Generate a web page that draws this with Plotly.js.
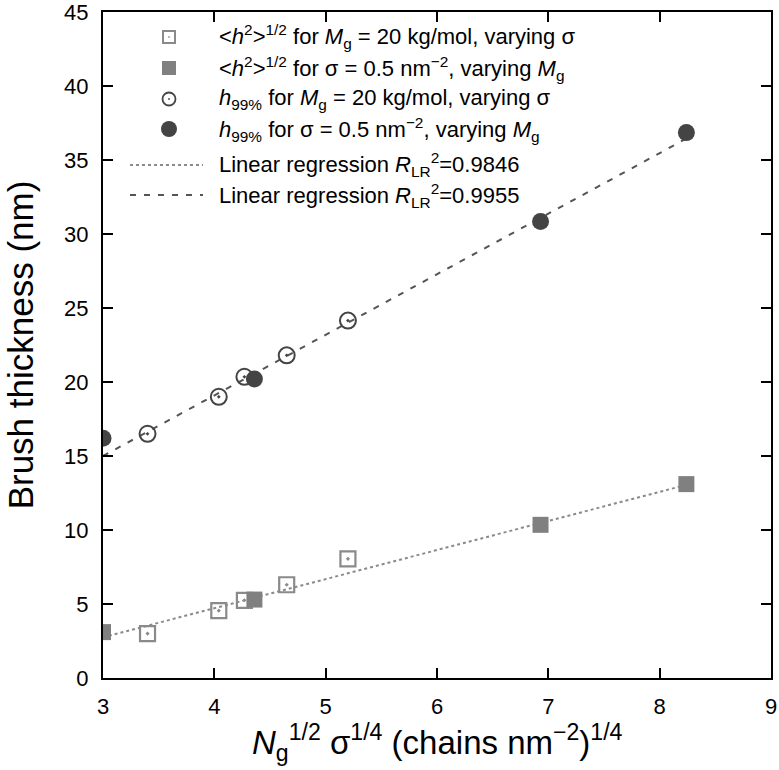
<!DOCTYPE html>
<html>
<head>
<meta charset="utf-8">
<script src="https://cdn.plot.ly/plotly-3.0.1.min.js"></script>
<style>html,body{margin:0;padding:0;background:#fff;}#chart{width:779px;height:770px;}</style>
</head>
<body>
<div id="chart"></div>
<script>
// <h^2>^1/2 for Mg = 20 kg/mol, varying sigma (open squares)
const rmsSigmaX = [3.40, 4.04, 4.27, 4.65, 5.20];
const rmsSigmaY = [3.0, 4.55, 5.25, 6.3, 8.05];
// <h^2>^1/2 for sigma = 0.5, varying Mg (filled squares)
const rmsMgX = [3.00, 4.36, 6.93, 8.24];
const rmsMgY = [3.1, 5.3, 10.35, 13.1];
// h99% for Mg = 20 kg/mol, varying sigma (open circles)
const h99SigmaX = [3.40, 4.04, 4.27, 4.65, 5.20];
const h99SigmaY = [16.5, 19.0, 20.35, 21.8, 24.15];
// h99% for sigma = 0.5, varying Mg (filled circles)
const h99MgX = [3.00, 4.36, 6.93, 8.24];
const h99MgY = [16.2, 20.2, 30.85, 36.85];
// regression lines (endpoints)
const regX = [3.0, 8.24];
const regLowY = [2.75, 13.05];
const regUpY = [15.0, 36.45];

const xTicks = [3, 4, 5, 6, 7, 8, 9];
const yTicks = [0, 5, 10, 15, 20, 25, 30, 35, 40, 45];

const names = [
  '&lt;<i>h</i><sup>2</sup>&gt;<sup>1/2</sup> for <i>M</i><sub>g</sub> = 20 kg/mol, varying σ',
  '&lt;<i>h</i><sup>2</sup>&gt;<sup>1/2</sup> for σ = 0.5 nm<sup>−2</sup>, varying <i>M</i><sub>g</sub>',
  '<i>h</i><sub>99%</sub> for <i>M</i><sub>g</sub> = 20 kg/mol, varying σ',
  '<i>h</i><sub>99%</sub> for σ = 0.5 nm<sup>−2</sup>, varying <i>M</i><sub>g</sub>',
  'Linear regression <i>R</i><sub>LR</sub><sup>2</sup>=0.9846',
  'Linear regression <i>R</i><sub>LR</sub><sup>2</sup>=0.9955'
];
const xTitle = '<i>N</i><sub>g</sub><sup>1/2</sup> σ<sup>1/4</sup> (chains nm<sup>−2</sup>)<sup>1/4</sup>';
const yTitle = 'Brush thickness (nm)';

const cOpenSq = '#8a8a8a', cSq = '#808080', cCirc = '#444444', cDot = '#8a8a8a', cDash = '#555555';

const traces = [
  {x: regX, y: regLowY, mode: 'lines', name: names[4], showlegend: false,
   line: {color: cDot, width: 2, dash: 'dot'}},
  {x: regX, y: regUpY, mode: 'lines', name: names[5], showlegend: false,
   line: {color: cDash, width: 2, dash: '6px,8px'}},
  {x: rmsSigmaX, y: rmsSigmaY, mode: 'markers', name: names[0], showlegend: false,
   marker: {symbol: 'square-open-dot', size: 15, color: cOpenSq, line: {width: 2.2, color: cOpenSq}}},
  {x: rmsMgX, y: rmsMgY, mode: 'markers', name: names[1], showlegend: false,
   marker: {symbol: 'square', size: 16, color: cSq}},
  {x: h99SigmaX, y: h99SigmaY, mode: 'markers', name: names[2], showlegend: false,
   marker: {symbol: 'circle-open-dot', size: 16, color: cCirc, line: {width: 2, color: cCirc}}},
  {x: h99MgX, y: h99MgY, mode: 'markers', name: names[3], showlegend: false,
   marker: {symbol: 'circle', size: 17, color: cCirc}}
];

// Manual legend (paper coordinates of the plot area)
const legRowsY = [0.9625, 0.9159, 0.8694, 0.8243, 0.7703, 0.7252];
const legSymX = 0.0988, legTextX = 0.170, legLineX0 = 0.0404, legLineX1 = 0.1497;

const annotations = names.map((t, i) => ({
  xref: 'paper', yref: 'paper', x: legTextX, y: legRowsY[i],
  xanchor: 'left', yanchor: 'middle', showarrow: false, text: t,
  font: {size: 22, color: '#000'}
}));
annotations.push({
  xref: 'paper', yref: 'paper', x: 0.5, y: -0.097, xanchor: 'center', yanchor: 'middle',
  showarrow: false, text: xTitle, font: {size: 33, color: '#000'}
});

function pxShape(type, cx, cy, half, fill, lineColor, lw) {
  return {type: type, xref: 'paper', yref: 'paper', xsizemode: 'pixel', ysizemode: 'pixel',
    xanchor: cx, yanchor: cy, x0: -half, x1: half, y0: -half, y1: half,
    fillcolor: fill, line: {color: lineColor, width: lw}};
}
const shapes = [
  pxShape('rect', legSymX, legRowsY[0], 6, '#ffffff', cOpenSq, 2),
  pxShape('rect', legSymX, legRowsY[0], 0.8, cOpenSq, cOpenSq, 0),
  pxShape('rect', legSymX, legRowsY[1], 7, cSq, cSq, 0),
  pxShape('circle', legSymX, legRowsY[2], 6.5, '#ffffff', cCirc, 1.8),
  pxShape('circle', legSymX, legRowsY[2], 0.9, cCirc, cCirc, 0),
  pxShape('circle', legSymX, legRowsY[3], 8, cCirc, cCirc, 0),
  {type: 'line', xref: 'paper', yref: 'paper', x0: legLineX0, x1: legLineX1, y0: legRowsY[4], y1: legRowsY[4],
   line: {color: cDot, width: 2, dash: 'dot'}},
  {type: 'line', xref: 'paper', yref: 'paper', x0: legLineX0, x1: legLineX1, y0: legRowsY[5], y1: legRowsY[5],
   line: {color: cDash, width: 2, dash: '6px,8px'}}
];

const layout = {
  width: 779, height: 770,
  margin: {l: 103, r: 8, t: 12, b: 92},
  paper_bgcolor: '#ffffff', plot_bgcolor: '#ffffff',
  font: {family: '"Liberation Sans", Arial, sans-serif', color: '#000'},
  showlegend: false,
  annotations: annotations,
  shapes: shapes,
  xaxis: {range: [3, 9], tickvals: xTicks, ticktext: xTicks.map(String),
    ticks: 'inside', ticklen: 10, tickwidth: 2, tickcolor: '#000', ticklabelstandoff: 8,
    ticklabeloverflow: 'allow',
    showline: true, linewidth: 2, linecolor: '#000', mirror: 'ticks',
    showgrid: false, zeroline: false, tickfont: {size: 22}},
  yaxis: {range: [0, 45], tickvals: yTicks, ticktext: yTicks.map(String),
    ticks: 'inside', ticklen: 10, tickwidth: 2, tickcolor: '#000', ticklabelstandoff: 8,
    ticklabeloverflow: 'allow',
    showline: true, linewidth: 2, linecolor: '#000', mirror: 'ticks',
    showgrid: false, zeroline: false, tickfont: {size: 22},
    title: {text: yTitle, font: {size: 35}, standoff: 20}}
};

Plotly.newPlot('chart', traces, layout, {displayModeBar: false, staticPlot: true});
</script>
</body>
</html>
